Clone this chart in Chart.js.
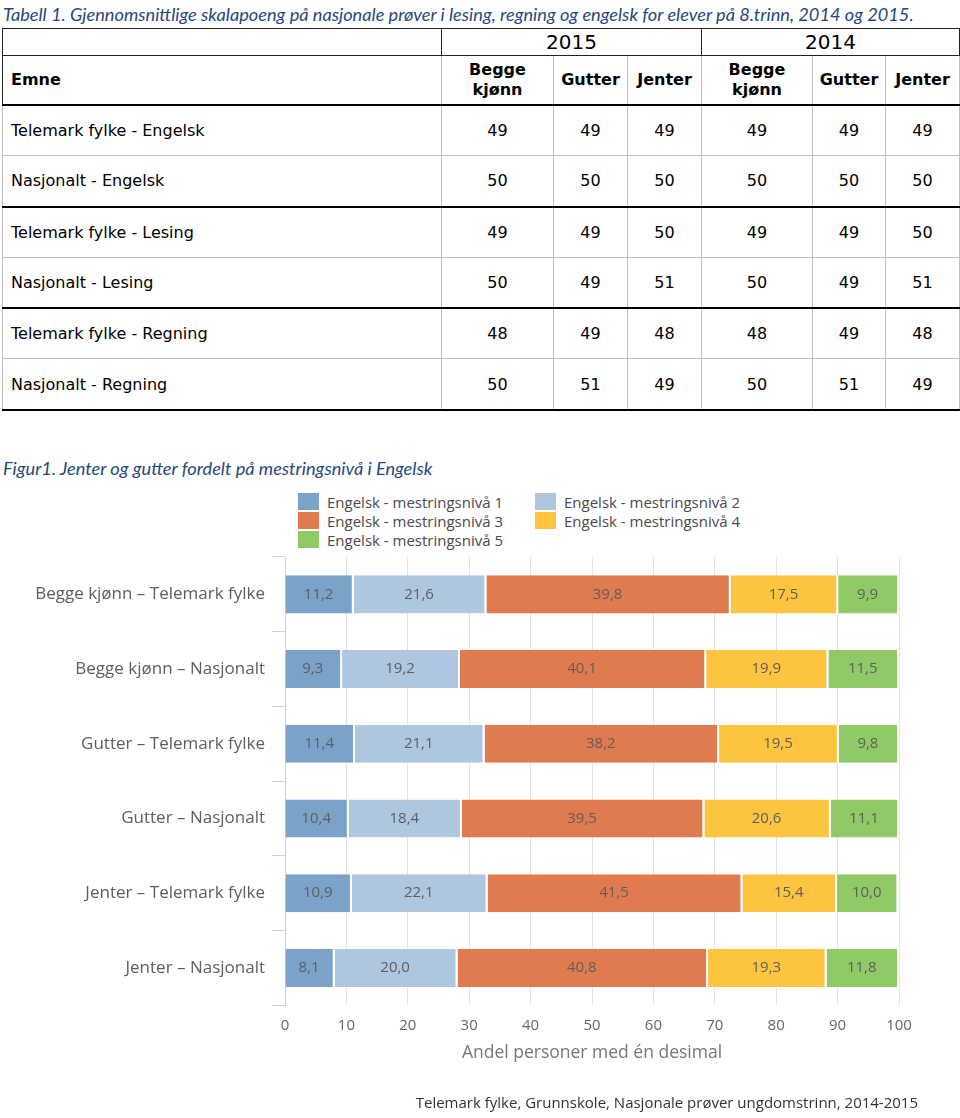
<!DOCTYPE html>
<html>
<head>
<meta charset="UTF-8"/>
<title>Mestringsnivå i Engelsk</title>
<script src="https://cdn.jsdelivr.net/npm/chart.js@4.4.0/dist/chart.umd.min.js"></script>
<style>
 body { margin: 0; background: #fff; width: 960px; height: 1118px; position: relative; overflow: hidden; }
 .caption { position: absolute; left: 3px; font-family: Lato, sans-serif; font-style: italic; font-size: 18.2px; color: #1F497D; white-space: nowrap; line-height: 20px; }
 #tabell { position: absolute; left: 2px; top: 28px; width: 957px; border-collapse: collapse; table-layout: fixed;
           font-family: "DejaVu Sans", sans-serif; font-size: 16px; color: #000; }
 #tabell th, #tabell td { padding: 0; text-align: center; vertical-align: middle; }
 #tabell tr.aar th { height: 26px; border: 1px solid #222; font-weight: normal; font-size: 20px; }
 #tabell tr.kol th { height: 48px; border-left: 1px solid #bfbfbf; border-right: 1px solid #bfbfbf; border-bottom: 2px solid #000; font-weight: bold; line-height: 20px; }
 #tabell tr.kol th.emne { text-align: left; padding-left: 8px; border-left-color: #222; }
 #tabell td { height: 49.3px; border: 1px solid #bfbfbf; }
 #tabell td.emne { text-align: left; padding-left: 8px; }
 #tabell tr.slutt td { border-bottom: 2px solid #000; }
 #legend { position: absolute; left: 298px; top: 492px; display: grid; grid-template-columns: 237px 237px;
           font-family: "Open Sans", sans-serif; font-size: 15px; color: #4a4a4a; }
 #legend .item { display: flex; align-items: center; height: 19px; }
 #legend .box { width: 21px; height: 17px; margin-right: 8px; }
 #figur { position: absolute; left: 0; top: 545px; width: 960px; height: 573px; }
</style>
</head>
<body>
<div class="caption" style="top:4px">Tabell 1. Gjennomsnittlige skalapoeng på nasjonale prøver i lesing, regning og engelsk for elever på 8.trinn, 2014 og 2015.</div>

<table id="tabell">
  <colgroup>
    <col style="width:439px"><col style="width:112px"><col style="width:74px"><col style="width:74px">
    <col style="width:111px"><col style="width:73px"><col style="width:74px">
  </colgroup>
  <thead>
    <tr class="aar"><th></th><th colspan="3">2015</th><th colspan="3">2014</th></tr>
    <tr class="kol"><th class="emne">Emne</th><th>Begge<br>kjønn</th><th>Gutter</th><th>Jenter</th><th>Begge<br>kjønn</th><th>Gutter</th><th>Jenter</th></tr>
  </thead>
  <tbody id="tabell-body"></tbody>
</table>

<div class="caption" style="top:458px">Figur1. Jenter og gutter fordelt på mestringsnivå i Engelsk</div>

<div id="legend"></div>

<div id="figur"><canvas id="chart-engelsk"></canvas></div>

<script>
 // tabell 1
 var emner = ['Telemark fylke - Engelsk', 'Nasjonalt - Engelsk', 'Telemark fylke - Lesing',
              'Nasjonalt - Lesing', 'Telemark fylke - Regning', 'Nasjonalt - Regning'];
 var snitt2015 = [[49, 49, 49], [50, 50, 50], [49, 49, 50], [50, 49, 51], [48, 49, 48], [50, 51, 49]];
 var snitt2014 = [[49, 49, 49], [50, 50, 50], [49, 49, 50], [50, 49, 51], [48, 49, 48], [50, 51, 49]];

 // figur 1
 var kategorier = ['Begge kjønn – Telemark fylke', 'Begge kjønn – Nasjonalt', 'Gutter – Telemark fylke',
                   'Gutter – Nasjonalt', 'Jenter – Telemark fylke', 'Jenter – Nasjonalt'];
 var nivaa1 = [11.2, 9.3, 11.4, 10.4, 10.9, 8.1];
 var nivaa2 = [21.6, 19.2, 21.1, 18.4, 22.1, 20.0];
 var nivaa3 = [39.8, 40.1, 38.2, 39.5, 41.5, 40.8];
 var nivaa4 = [17.5, 19.9, 19.5, 20.6, 15.4, 19.3];
 var nivaa5 = [9.9, 11.5, 9.8, 11.1, 10.0, 11.8];
 var nivaaNavn = ['Engelsk - mestringsnivå 1', 'Engelsk - mestringsnivå 2', 'Engelsk - mestringsnivå 3',
                  'Engelsk - mestringsnivå 4', 'Engelsk - mestringsnivå 5'];
 var farger = ['#7ba2c9', '#aec6de', '#e07b4f', '#fcc43f', '#8fca66'];

 var tbody = document.getElementById('tabell-body');
 emner.forEach(function(emne, i){
     var tr = document.createElement('tr');
     if (i % 2 == 1) tr.className = 'slutt';
     var html = '<td class="emne">' + emne + '</td>';
     snitt2015[i].concat(snitt2014[i]).forEach(function(v){ html += '<td>' + v + '</td>'; });
     tr.innerHTML = html;
     tbody.appendChild(tr);
 });

 var legend = document.getElementById('legend');
 nivaaNavn.forEach(function(navn, i){
     var item = document.createElement('div');
     item.className = 'item';
     item.innerHTML = '<span class="box" style="background:' + farger[i] + '"></span>' + navn;
     legend.appendChild(item);
 });

 // verdier midt i hver bit av stolpen, med komma som desimaltegn
 var barLabels = {
     id: 'barLabels',
     afterDatasetsDraw: function(chart){
         var ctx = chart.ctx;
         ctx.save();
         ctx.font = '15px "Open Sans"';
         ctx.fillStyle = '#5e5e5e';
         ctx.textAlign = 'center';
         ctx.textBaseline = 'middle';
         chart.data.datasets.forEach(function(ds, i){
             chart.getDatasetMeta(i).data.forEach(function(bar, j){
                 var p = bar.getCenterPoint();
                 ctx.fillText(ds.data[j].toFixed(1).replace('.', ','), p.x - 1, p.y);
             });
         });
         ctx.restore();
     }
 };

 Chart.defaults.font.family = '"Open Sans", sans-serif';

 var serier = [nivaa1, nivaa2, nivaa3, nivaa4, nivaa5];
 new Chart('chart-engelsk', {
     type: 'bar',
     data: {
         labels: kategorier,
         datasets: serier.map(function(data, i){
             return {
                 label: nivaaNavn[i],
                 data: data,
                 backgroundColor: farger[i],
                 borderColor: '#ffffff',
                 borderWidth: {left: 0, right: 2, top: 0, bottom: 0},
                 borderSkipped: false,
                 barPercentage: 0.51,
                 categoryPercentage: 1
             };
         })
     },
     options: {
         indexAxis: 'y',
         responsive: true,
         maintainAspectRatio: false,
         animation: false,
         layout: { padding: {top: 12, right: 42, left: 0, bottom: 0} },
         scales: {
             x: {
                 stacked: true,
                 min: 0,
                 max: 100,
                 ticks: { stepSize: 10, color: '#666', font: {size: 15, lineHeight: 1}, padding: 12.5, maxRotation: 0 },
                 grid: { color: '#e3e3e3', drawTicks: false },
                 border: { display: false },
                 title: {
                     display: true,
                     text: 'Andel personer med én desimal',
                     color: '#777',
                     font: {size: 17.5, lineHeight: 0.9},
                     padding: {top: 0, bottom: 8}
                 },
                 afterFit: function(scale){ scale.paddingRight = 61; }
             },
             y: {
                 stacked: true,
                 grid: { drawOnChartArea: false, tickLength: 13, color: '#d0d0d0', offset: true },
                 border: { color: '#d0d0d0' },
                 ticks: { color: '#5e5e5e', font: {size: 17}, padding: 7 },
                 afterFit: function(scale){
                     scale.width = 285;
                     scale.paddingTop = 0;
                     scale.paddingBottom = 0;
                 }
             }
         },
         plugins: {
             legend: { display: false },
             tooltip: { enabled: false },
             title: {
                 display: true,
                 position: 'bottom',
                 align: 'end',
                 text: 'Telemark fylke, Grunnskole, Nasjonale prøver ungdomstrinn, 2014-2015',
                 color: '#333',
                 font: {size: 15, weight: 'normal'},
                 padding: {top: 25.5, bottom: 5.5}
             }
         }
     },
     plugins: [barLabels]
 });
</script>
</body>
</html>
